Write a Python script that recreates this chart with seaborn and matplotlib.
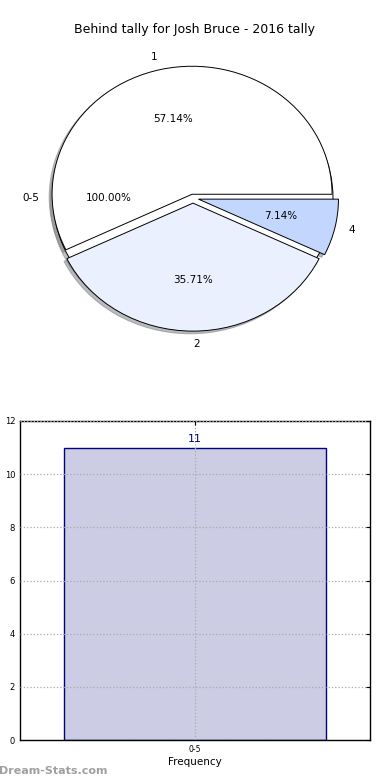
import seaborn as sns
import pandas as pd
import matplotlib.pyplot as plt

# pie data
outer_labels = ['0-5']
outer_values = [14]
tally_labels = ['1', '2', '4']
tally_values = [8, 5, 1]

# bar data
bar_cats = ['0-5']
bar_vals = [11]

if __name__ == "__main__":
    sns.set_style('white')
    plt.rcParams['font.family'] = ['DejaVu Sans']
    plt.rcParams['text.color'] = 'black'

    fig = plt.figure(figsize=(3.9, 7.8), dpi=100)

    # Pie chart
    shadow = {'ox': -0.015, 'oy': -0.015, 'shade': 0.5}
    ax1 = fig.add_axes([18 / 390, 1 - 358 / 780, 350 / 390, 320 / 780])
    ax1.pie(outer_values, labels=outer_labels, autopct='%.2f%%', shadow=shadow,
            colors=['white'], wedgeprops={'edgecolor': 'black', 'linewidth': 0.7},
            textprops={'fontsize': 7.5, 'color': 'black'})
    ax1.pie(tally_values, labels=tally_labels, autopct='%.2f%%', shadow=shadow,
            explode=[0.03, 0.04, 0.04],
            colors=['#ffffff', '#eaf0fe', '#c3d7fe'],
            wedgeprops={'edgecolor': 'black', 'linewidth': 0.7},
            textprops={'fontsize': 7.5, 'color': 'black'})
    ax1.set_aspect('auto')
    ax1.set_xlim(-1.25, 1.25)
    ax1.set_ylim(-1.25, 1.25)
    fig.text(194 / 390, 1 - 30 / 780, 'Behind tally for Josh Bruce - 2016 tally',
             ha='center', va='center', fontsize=9, color='black')

    # Bar chart
    ax2 = fig.add_axes([20 / 390, 1 - 740 / 780, 350 / 390, 319 / 780])
    df = pd.DataFrame({'cat': bar_cats, 'val': bar_vals})
    sns.barplot(data=df, x='cat', y='val', ax=ax2, width=0.75, saturation=1,
                color='#cccce4', edgecolor='navy', linewidth=1)
    for p, v in zip(ax2.patches, bar_vals):
        ax2.text(p.get_x() + p.get_width() / 2, p.get_height() + 0.15, str(v),
                 ha='center', va='bottom', color='navy', fontsize=8)
    ax2.set_xlim(-0.5, 0.5)
    ax2.set_ylim(0, 12)
    ax2.set_yticks(range(0, 13, 2))
    ax2.grid(True, color='#aaaaaa', linestyle=':', linewidth=0.9)
    ax2.set_axisbelow(False)
    for s in ax2.spines.values():
        s.set_color('black')
        s.set_linewidth(1)
    ax2.tick_params(axis='both', direction='in', length=3, width=0.8,
                    top=True, right=True, labelsize=6, colors='black')
    ax2.tick_params(axis='x', labelsize=5.5)
    ax2.set_xlabel('Frequency', fontsize=7.5, labelpad=2, color='black')
    ax2.set_ylabel('Behind Tally', fontsize=7.5, color='black')
    ax2.yaxis.set_label_coords(-0.07, 0.4)

    fig.text(-0.003, 1 - 771 / 780, 'Dream-Stats.com', color='#a0a0a0',
             fontsize=8, fontweight='bold', ha='left', va='center')

    plt.savefig('out.png', dpi=100)
